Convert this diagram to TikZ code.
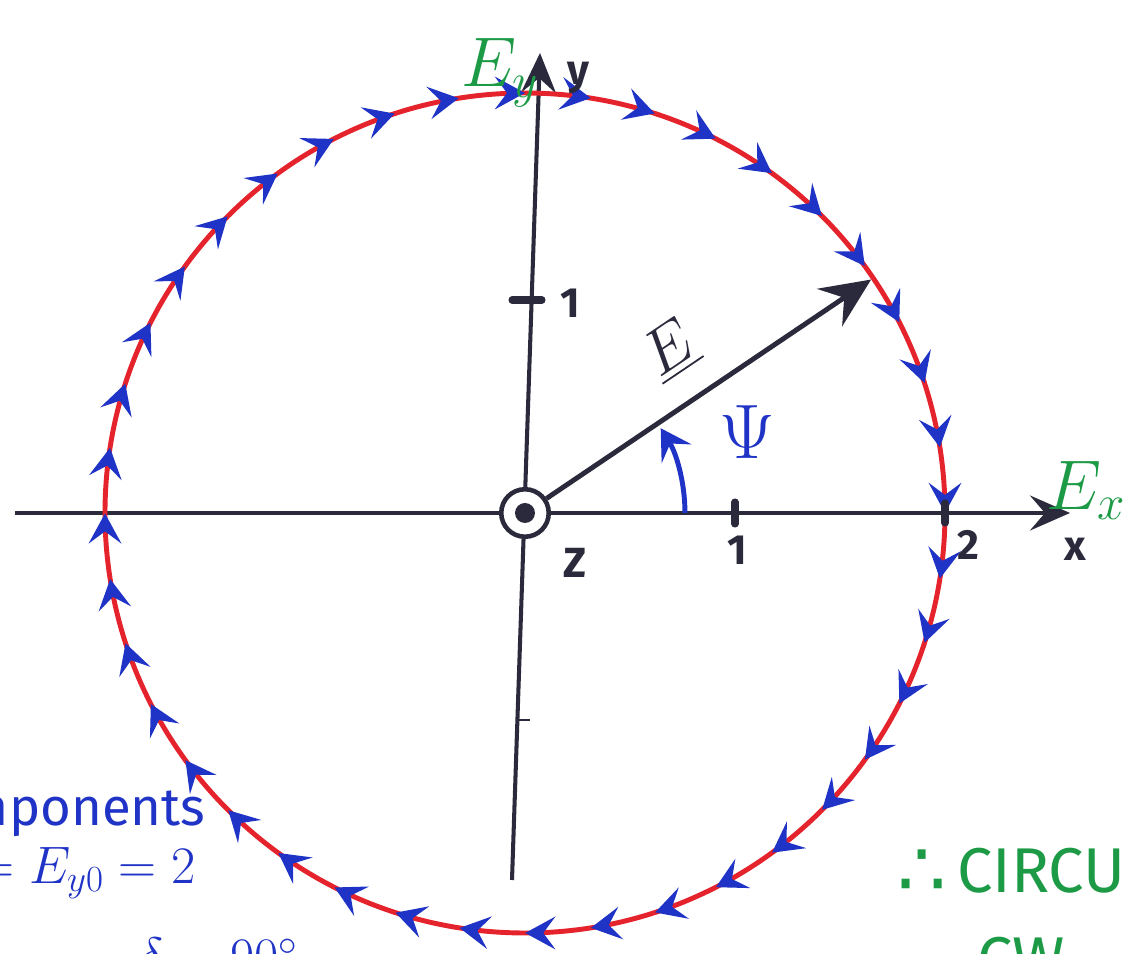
\RequirePackage{fix-cm}
\documentclass[tikz,border=0pt]{standalone}
\usepackage{amsmath}
\usepackage{fontspec}
\setmainfont{Fira Sans}
\newfontfamily\symbfont{DejaVu Sans}
\usepackage{tikz}
\usetikzlibrary{positioning,arrows.meta,calc,decorations.markings}
\definecolor{ink}{HTML}{2A2A3C}
\definecolor{redpen}{HTML}{E5232C}
\definecolor{bluepen}{HTML}{1F33C6}
\definecolor{greenpen}{HTML}{1C9A45}
\newcommand{\bigfont}[1]{\fontsize{#1}{#1}\selectfont}

\begin{document}
\begin{tikzpicture}[
    axis/.style={draw=ink,line width=2.3pt,
                 -{Stealth[length=8mm,width=7mm,inset=3mm]}},
    vec/.style={draw=ink,line width=2.8pt,
                -{Stealth[length=10mm,width=9mm,inset=3.5mm]}},
    orbit/.style={draw=redpen,line width=2.8pt,postaction={decorate},
                  decoration={markings,
                    mark=between positions 0 and 0.99 step 0.025 with
                    {\arrow[bluepen]{Stealth[length=6mm,width=6.5mm,inset=2.4mm]}}}},
    tick/.style={draw=ink,line width=4pt,line cap=round},
    anglearrow/.style={draw=bluepen,line width=2.8pt,
                       -{Stealth[length=6mm,width=7mm,inset=2.4mm]}},
    lbl/.style={text=ink,font=\bigfont{24}\bfseries,inner sep=1pt},
    greenlbl/.style={text=greenpen,font=\bigfont{40},inner sep=1pt},
    bluelbl/.style={text=bluepen,font=\bigfont{30},inner sep=1pt,align=right}
  ]
  \useasboundingbox (-10.5,-8.82) rectangle (12.06,10.26);
  \clip (-10.5,-8.82) rectangle (12.06,10.26);

  % axes
  \coordinate (O) at (0,0);
  \coordinate (xstart) at (-10.2,0);
  \coordinate (xend)   at (10.9,0);
  \coordinate (ystart) at (-0.26,-7.34);
  \coordinate (yend)   at (0.3,9.2);
  \draw[axis] (xstart) -- (xend);
  \draw[axis] (ystart) -- (yend);

  % field circle, clockwise
  \coordinate (top) at (90:8.4);
  \draw[orbit] (top) arc[start angle=90,end angle=-270,radius=8.4];

  % ticks
  \coordinate (x1) at (4.2,0);
  \coordinate (x2) at (8.4,0);
  \coordinate (y1) at (0.04,4.26);
  \coordinate (ym1) at (-0.14,-4.14);
  \draw[tick] ($(x1)+(0,-0.22)$) -- ($(x1)+(0,0.22)$);
  \draw[tick] ($(x2)+(0,-0.2)$) -- ($(x2)+(0,0.2)$);
  \draw[tick] ($(y1)+(-0.3,0)$) -- ($(y1)+(0.3,0)$);
  \draw[draw=ink,line width=1.6pt] (ym1) -- ++(0.25,0);

  % z axis out of the page
  \node[draw=ink,circle,line width=2.6pt,minimum size=9.5mm,inner sep=0pt,
        fill=white] (zdot) at (O) {};
  \fill[ink] (zdot.center) circle (0.2);

  % field vector
  \coordinate (Etip) at (34:8.35);
  \draw[vec] (zdot) -- (Etip);
  \coordinate (psistart) at (3.2,0);
  \draw[anglearrow] (psistart) arc[start angle=0,end angle=32,radius=3.2];

  % labels
  \node[lbl] (xone)  at (4.24,-0.74) {1};
  \node[lbl] (yone)  at (0.9,4.2)    {1};
  \node[lbl] (xtwo)  at (8.86,-0.64) {2};
  \node[lbl] (xlbl)  at (11.0,-0.72) {x};
  \node[lbl] (ylbl)  at (1.06,8.7)   {y};
  \node[lbl] (zlbl)  at (1.0,-1.0)   {Z};
  \node[lbl,rotate=34,font=\bigfont{36}] (Elbl) at (2.9,3.25) {$\underline{E}$};
  \node[bluelbl,font=\bigfont{44}] (psilbl) at (4.45,1.62) {$\Psi$};
  \node[greenlbl] (Ex) at (11.22,0.45) {$E_x$};
  \node[greenlbl] (Ey) at (-0.5,8.8) {$E_y$};

  % notes, cut by the page edge
  \node[bluelbl,anchor=east] (comp) at (-6.35,-6.0) {Components};
  \node[bluelbl,anchor=east] (amp)  at (-6.55,-7.2) {$E_{x0}=E_{y0}=2$};
  \node[bluelbl,anchor=north east] (phase) at (-4.5,-8.45) {$\delta=90^\circ$};
  \node[greenlbl,font=\bigfont{44}\symbfont] (thus) at (7.95,-7.2) {∴};
  \node[greenlbl,anchor=west,font=\bigfont{36}] (circ) at (8.6,-7.15) {CIRCULARLY};
  \node[greenlbl,anchor=north west,font=\bigfont{36}] (cw) at (9.0,-8.45) {CW};
\end{tikzpicture}
\end{document}
